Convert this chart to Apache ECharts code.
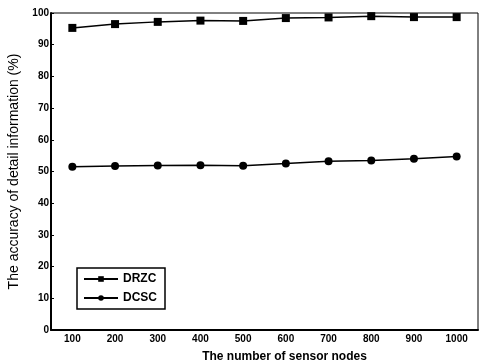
<!DOCTYPE html>
<html>
<head>
<meta charset="utf-8">
<script src="https://cdn.jsdelivr.net/npm/echarts@6/dist/echarts.min.js"></script>
<style>
    html, body {margin: 0; padding: 0; background: #fff;}
    #chart {width: 479px; height: 364px;}
</style>
</head>
<body>
<div id="chart"></div>
<script>
    var nodes = ['100', '200', '300', '400', '500', '600', '700', '800', '900', '1000'];
    var drzc = [95.3, 96.5, 97.2, 97.6, 97.5, 98.4, 98.6, 99.0, 98.7, 98.7];
    var dcsc = [51.5, 51.7, 51.9, 52.0, 51.8, 52.5, 53.2, 53.5, 54.0, 54.7];

    var myChart = echarts.init(document.getElementById('chart'));
    var option = {
        animation: false,
        textStyle: {fontFamily: 'Liberation Sans', color: '#000'},
        grid: {
            left: 51, right: 1, top: 13, bottom: 34,
            outerBoundsMode: 'none',
            show: true, borderColor: '#000', borderWidth: 1
        },
        legend: {
            left: 77, top: 268, orient: 'vertical',
            itemWidth: 34, itemHeight: 7, itemGap: 7,
            padding: [5, 8, 5, 6],
            borderColor: '#000', borderWidth: 1.5,
            textStyle: {fontSize: 12, fontWeight: 'bold', color: '#000', letterSpacing: 2},
            data: ['DRZC', 'DCSC']
        },
        xAxis: {
            type: 'category',
            data: nodes,
            boundaryGap: true,
            name: 'The number of sensor nodes',
            nameLocation: 'middle',
            nameGap: 21,
            nameTextStyle: {fontSize: 12, fontWeight: 'bold', color: '#000', letterSpacing: 1, padding: [0, 0, 0, 40]},
            axisLine: {lineStyle: {color: '#000', width: 2}},
            axisTick: {show: false},
            axisLabel: {fontSize: 10, fontWeight: 'bold', color: '#000', margin: 4}
        },
        yAxis: {
            type: 'value',
            min: 0, max: 100, interval: 10,
            name: 'The accuracy of detail information (%)',
            nameLocation: 'middle',
            nameGap: 19,
            nameTextStyle: {fontSize: 14, color: '#000'},
            axisLine: {show: true, lineStyle: {color: '#000', width: 2}},
            axisTick: {show: true, inside: true, length: 3, lineStyle: {color: '#000'}},
            splitLine: {show: false},
            axisLabel: {fontSize: 10, fontWeight: 'bold', color: '#000', margin: 2}
        },
        series: [
            {
                name: 'DRZC',
                type: 'line',
                data: drzc,
                symbol: 'rect', symbolSize: 8,
                itemStyle: {color: '#000'},
                lineStyle: {color: '#000', width: 1.5}
            },
            {
                name: 'DCSC',
                type: 'line',
                data: dcsc,
                symbol: 'circle', symbolSize: 8,
                itemStyle: {color: '#000'},
                lineStyle: {color: '#000', width: 1.5}
            }
        ]
    };
    myChart.setOption(option);
</script>
</body>
</html>
